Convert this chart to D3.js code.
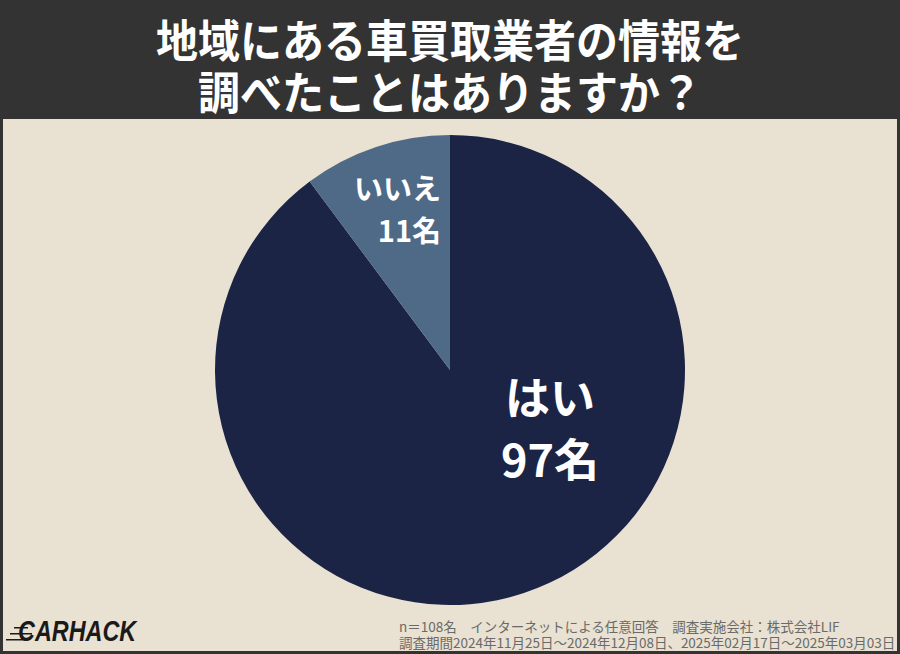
<!DOCTYPE html>
<html><head><meta charset="utf-8">
<script src="https://cdn.jsdelivr.net/npm/d3@7/dist/d3.min.js"></script>
<style>body{margin:0;background:#333}svg{display:block}</style>
</head><body>
<svg id="c" width="900" height="654"></svg>
<script>
const categories = ["はい", "いいえ"];
const values = [97, 11];
const valueLabels = ["97名", "11名"];
const titleLines = ["地域にある車買取業者の情報を", "調べたことはありますか？"];
const footLines = ["n＝108名　インターネットによる任意回答　調査実施会社：株式会社LIF",
  "調査期間2024年11月25日～2024年12月08日、2025年02月17日～2025年03月03日"];
const colors = ["#1b2445", "#4e6a86"];

const svg = d3.select("#c");
const W = 900, H = 654;
const font = "'Noto Sans CJK JP','Noto Sans',sans-serif";
svg.append("rect").attr("width", W).attr("height", H).attr("fill", "#333333");
svg.append("rect").attr("x", 3).attr("y", 119).attr("width", W - 6).attr("height", H - 119 - 3).attr("fill", "#e9e1d1");

const title = svg.append("g");
titleLines.forEach((t, i) => {
  title.append("text")
    .attr("transform", `translate(${W / 2},${58 + i * 52}) scale(1.0,1.08)`)
    .attr("text-anchor", "middle").attr("fill", "#fff")
    .attr("font-family", font).attr("font-weight", 700).attr("font-size", 42)
    .text(t);
});

const cx = 450, cy = 370, r = 235;
const pie = d3.pie().sort(null).value(d => d);
const arcs = pie(values);
const arc = d3.arc().innerRadius(0).outerRadius(r);
const g = svg.append("g").attr("transform", `translate(${cx},${cy})`);
g.selectAll("path").data(arcs).join("path").attr("d", arc).attr("fill", (d, i) => colors[i]);

// labels
const labelCfg = [
  {x: 100, y: 45, fs: 45, gap: 62, anchor: "middle"},
  {x: -9, y: -170, fs: 29, gap: 42, anchor: "end"}
];
arcs.forEach((a, i) => {
  const cfg = labelCfg[i];
  const lab = g.append("text").attr("text-anchor", cfg.anchor).attr("fill", "#fff")
    .attr("font-family", font).attr("font-weight", 700).attr("font-size", cfg.fs);
  lab.append("tspan").attr("x", cfg.x).attr("y", cfg.y).text(categories[i]);
  lab.append("tspan").attr("x", cfg.x).attr("y", cfg.y + cfg.gap).text(valueLabels[i]);
});

footLines.forEach((t, i) => {
  svg.append("text").attr("x", 399).attr("y", 632 + i * 16)
    .attr("fill", "#6a6a6a").attr("font-family", font).attr("font-size", 13.5).text(t);
});

// logo
const logo = svg.append("g");
logo.append("text").attr("transform", "translate(18,641) scale(0.78,1)").attr("fill", "#1a1a1a")
  .attr("font-family", "'Liberation Sans','DejaVu Sans',sans-serif")
  .attr("font-weight", 700).attr("font-style", "italic").attr("font-size", 30)
  .attr("letter-spacing", 0).text("CARHACK");
[[10, 633, 22], [6, 639, 20], [14, 627, 14]].forEach(([x, y, w]) => {
  logo.append("rect").attr("x", x).attr("y", y).attr("width", w).attr("height", 1.5).attr("fill", "#1a1a1a");
});
</script>
</body></html>
